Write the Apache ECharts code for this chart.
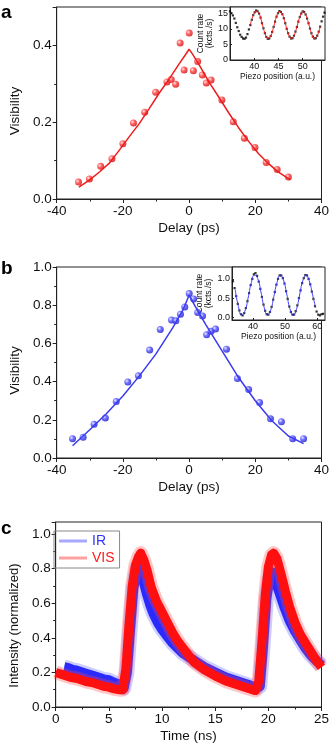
<!DOCTYPE html>
<html>
<head>
<meta charset="utf-8">
<script src="https://cdn.jsdelivr.net/npm/echarts@6/dist/echarts.min.js"></script>
<style>
html, body { margin: 0; padding: 0; background: #fff; }
#chart { width: 332px; height: 747px; }
</style>
</head>
<body>
<div id="chart"></div>
<script>
// panel a - visibility vs delay (red)
const delayA = [-33.4, -30.1, -26.7, -23.3, -20.0, -16.8, -13.4, -10.1, -6.7, -5.4, -4.05, -2.7, -1.5, 0.05, 1.3, 2.6, 4.0, 5.2, 6.65, 9.9, 13.35, 16.7, 19.9, 23.3, 26.6, 30.0]
const visA = [0.044, 0.052, 0.085, 0.105, 0.144, 0.198, 0.226, 0.278, 0.305, 0.311, 0.299, 0.406, 0.336, 0.432, 0.334, 0.358, 0.323, 0.302, 0.310, 0.258, 0.201, 0.158, 0.134, 0.095, 0.077, 0.057]
const fitDelayA = [-33.3, -30, -27, -24, -21, -18, -15, -12, -9, -6, -3, -1, 0, 1, 3, 6, 9, 12, 15, 18, 21, 24, 27, 30.6]
const fitVisA = [0.031, 0.050, 0.071, 0.094, 0.128, 0.163, 0.197, 0.236, 0.276, 0.313, 0.352, 0.377, 0.39, 0.378, 0.350, 0.305, 0.265, 0.224, 0.185, 0.150, 0.118, 0.092, 0.070, 0.050]

// inset a - count rate vs piezo position
const piezoA = [35.0, 35.3, 35.6, 35.9, 36.2, 36.5, 36.8, 37.1, 37.4, 37.7, 38.0, 38.3, 38.6, 38.9, 39.2, 39.5, 39.8, 40.1, 40.4, 40.7, 41.0, 41.3, 41.6, 41.9, 42.2, 42.5, 42.8, 43.1, 43.4, 43.7, 44.0, 44.3, 44.6, 44.9, 45.2, 45.5, 45.8, 46.1, 46.4, 46.7, 47.0, 47.3, 47.6, 47.9, 48.2, 48.5, 48.8, 49.1, 49.4, 49.7, 50.0, 50.3, 50.6, 50.9, 51.2, 51.5, 51.8, 52.1, 52.4, 52.7, 53.0, 53.3, 53.6, 53.9, 54.2, 54.5]
const countA = [15.6, 15.0, 14.3, 13.3, 11.9, 10.5, 9.3, 8.1, 7.4, 6.9, 6.8, 7.2, 8.3, 9.8, 11.2, 12.9, 14.4, 15.3, 15.9, 15.6, 14.9, 13.6, 11.8, 10.2, 8.6, 7.4, 6.8, 6.9, 7.7, 9.0, 10.6, 12.3, 13.9, 15.0, 15.7, 15.4, 14.7, 13.4, 11.8, 10.0, 8.6, 7.5, 6.9, 7.0, 7.8, 9.1, 10.6, 12.3, 13.8, 14.9, 15.6, 15.4, 14.6, 13.3, 11.8, 10.1, 8.6, 7.5, 6.9, 7.0, 7.8, 9.1, 10.7, 12.4, 13.9, 15.2]
const piezoFitA = [39.2, 39.8, 40.4, 41.0, 41.6, 42.2, 42.8, 43.4, 44.0, 44.6, 45.2, 45.8, 46.4, 47.0, 47.6, 48.2, 48.8, 49.4, 50.0, 50.6, 51.2, 51.8, 52.4, 53.0, 53.6]
const countFitA = [11.3, 14.3, 15.7, 14.9, 11.9, 8.6, 6.9, 7.7, 10.6, 13.9, 15.6, 14.7, 11.8, 8.6, 6.9, 7.8, 10.6, 13.8, 15.5, 14.6, 11.8, 8.6, 6.9, 7.8, 10.7]

// panel b - visibility vs delay (blue)
const delayB = [-35.2, -32.0, -28.7, -25.3, -22.0, -18.5, -15.3, -11.9, -8.7, -5.3, -4.0, -2.6, -1.3, 0.04, 1.4, 2.6, 4.06, 5.3, 6.65, 8.0, 11.3, 14.6, 18.0, 21.3, 24.6, 27.9, 31.3, 34.6]
const visB = [0.101, 0.108, 0.177, 0.210, 0.296, 0.398, 0.430, 0.565, 0.673, 0.722, 0.718, 0.753, 0.791, 0.861, 0.833, 0.762, 0.743, 0.645, 0.663, 0.675, 0.570, 0.416, 0.358, 0.290, 0.205, 0.190, 0.101, 0.101]
const fitDelayB = [-35.2, -30, -25, -20, -15, -10, -5, -2, 0, 2, 5, 10, 15, 20, 25, 30, 34.6]
const fitVisB = [0.064, 0.148, 0.232, 0.325, 0.43, 0.545, 0.68, 0.77, 0.852, 0.79, 0.70, 0.56, 0.42, 0.30, 0.195, 0.115, 0.075]

// inset b
const piezoB = [33.8, 34.3, 34.8, 35.3, 35.8, 36.3, 36.8, 37.3, 37.8, 38.3, 38.8, 39.3, 39.8, 40.3, 40.8, 41.3, 41.8, 42.3, 42.8, 43.3, 43.8, 44.3, 44.8, 45.3, 45.8, 46.3, 46.8, 47.3, 47.8, 48.3, 48.8, 49.3, 49.8, 50.3, 50.8, 51.3, 51.8, 52.3, 52.8, 53.3, 53.8, 54.3, 54.8, 55.3, 55.8, 56.3, 56.8, 57.3, 57.8, 58.3, 58.8, 59.3, 59.8, 60.3, 60.8, 61.3, 61.8]
const countB = [0.94, 0.76, 0.55, 0.35, 0.18, 0.08, 0.05, 0.11, 0.24, 0.42, 0.63, 0.84, 1.00, 1.12, 1.15, 1.08, 0.93, 0.74, 0.53, 0.33, 0.17, 0.08, 0.07, 0.14, 0.27, 0.46, 0.66, 0.85, 1.00, 1.09, 1.09, 1.02, 0.88, 0.68, 0.48, 0.28, 0.14, 0.07, 0.07, 0.16, 0.31, 0.50, 0.70, 0.89, 1.02, 1.10, 1.09, 1.00, 0.86, 0.67, 0.48, 0.29, 0.15, 0.07, 0.05, 0.08, 0.09]
const piezoFitB = [34.5, 35.5, 36.5, 37.5, 38.5, 39.5, 40.5, 41.5, 42.5, 43.5, 44.5, 45.5, 46.5, 47.5, 48.5, 49.5, 50.5, 51.5, 52.5, 53.5, 54.5, 55.5, 56.5, 57.5, 58.5, 59.5]
const countFitB = [0.72, 0.28, 0.06, 0.16, 0.50, 0.90, 1.10, 1.01, 0.66, 0.26, 0.06, 0.18, 0.54, 0.91, 1.10, 0.97, 0.61, 0.22, 0.05, 0.20, 0.58, 0.95, 1.10, 0.95, 0.60, 0.25]

// panel c - normalized intensity vs time
const timeIR = [0.8, 1.2, 1.6, 2, 2.5, 3, 3.5, 4, 4.5, 5, 5.5, 6, 6.4, 6.7, 7.0, 7.3, 7.6, 7.8, 8.0, 8.3, 8.6, 8.9, 9.2, 9.6, 10, 10.5, 11, 11.5, 12, 13, 14, 15, 16, 17, 18, 18.9, 19.2, 19.5, 19.8, 20.1, 20.3, 20.6, 21, 21.5, 22, 22.5, 23, 23.5, 24, 24.5, 25]
const irVal = [0.23, 0.225, 0.215, 0.21, 0.20, 0.19, 0.18, 0.17, 0.16, 0.155, 0.14, 0.13, 0.11, 0.20, 0.45, 0.68, 0.79, 0.82, 0.78, 0.72, 0.65, 0.59, 0.54, 0.49, 0.45, 0.41, 0.37, 0.34, 0.31, 0.27, 0.23, 0.20, 0.17, 0.15, 0.13, 0.11, 0.12, 0.35, 0.62, 0.74, 0.78, 0.74, 0.67, 0.58, 0.50, 0.44, 0.39, 0.34, 0.30, 0.27, 0.24]
const timeVIS = [0, 0.5, 1, 1.5, 2, 2.5, 3, 3.5, 4, 4.5, 5, 5.5, 6, 6.3, 6.6, 6.9, 7.2, 7.5, 7.8, 8.0, 8.3, 8.6, 9, 9.5, 10, 10.5, 11, 11.5, 12, 13, 14, 15, 16, 17, 18, 18.8, 19.1, 19.4, 19.7, 20.0, 20.3, 20.5, 20.8, 21.2, 21.6, 22, 22.5, 23, 23.5, 24, 24.5, 25]
const visVal = [0.20, 0.19, 0.18, 0.17, 0.165, 0.155, 0.145, 0.14, 0.13, 0.12, 0.115, 0.105, 0.10, 0.10, 0.22, 0.48, 0.70, 0.82, 0.87, 0.89, 0.85, 0.79, 0.69, 0.61, 0.55, 0.49, 0.43, 0.38, 0.34, 0.26, 0.215, 0.18, 0.15, 0.13, 0.11, 0.095, 0.15, 0.38, 0.64, 0.81, 0.88, 0.89, 0.86, 0.77, 0.67, 0.58, 0.49, 0.42, 0.37, 0.32, 0.27, 0.23]

const font = 'Liberation Sans, Arial, sans-serif'
const ink = '#111'
const zip = (xs, ys) => xs.map((x, i) => [x, ys[i]])
const one = v => v.toFixed(1)

// 3d-ish sphere markers
const sphere = (light, mid, dark) => ({
  type: 'radial', x: 0.35, y: 0.35, r: 0.75,
  colorStops: [{ offset: 0, color: light }, { offset: 0.4, color: mid }, { offset: 1, color: dark }]
})

// main axes with outward ticks and minor ticks
function mainAxis(gridIndex, min, max, interval, name, nameGap, extra) {
  return Object.assign({
    type: 'value', gridIndex, min, max, interval,
    name, nameLocation: 'middle', nameGap,
    nameTextStyle: { fontSize: 13.5, color: ink, fontFamily: font },
    axisLine: { show: true, onZero: false, lineStyle: { color: '#222', width: 1 } },
    axisTick: { show: true, inside: false, length: 4, lineStyle: { color: '#222' } },
    minorTick: { show: true, splitNumber: 2, length: 2.5, lineStyle: { color: '#222' } },
    axisLabel: { fontSize: 13.5, color: ink, margin: 5, fontFamily: font },
    splitLine: { show: false }
  }, extra || {})
}

// small inset axes
function insetAxis(gridIndex, min, max, name, nameGap, label, extra) {
  return Object.assign({
    type: 'value', gridIndex, min, max,
    name, nameLocation: 'middle', nameGap,
    nameTextStyle: { fontSize: 8.5, color: ink, fontFamily: font, lineHeight: 9 },
    axisLine: { show: true, onZero: false, lineStyle: { color: '#222', width: 1 } },
    axisTick: { show: true, inside: true, length: 2, lineStyle: { color: '#222' } },
    axisLabel: Object.assign({ fontSize: 9, color: ink, margin: 2, fontFamily: font }, label),
    splitLine: { show: false }
  }, extra || {})
}

const myChart = echarts.init(document.getElementById('chart'))

const option = {
  animation: false,
  backgroundColor: '#fff',
  textStyle: { fontFamily: font },
  grid: [
    { left: 46, top: 7, right: 7, height: 192, show: true, borderColor: '#222', borderWidth: 1 },
    { left: 230, top: 7, right: 7, height: 53, show: true, borderColor: '#222', borderWidth: 1, backgroundColor: '#fff' },
    { left: 47, top: 267, right: 7, height: 191, show: true, borderColor: '#222', borderWidth: 1 },
    { left: 232, top: 267, right: 7, height: 53, show: true, borderColor: '#222', borderWidth: 1, backgroundColor: '#fff' },
    { left: 49, top: 522, right: 9, height: 185, show: true, borderColor: '#222', borderWidth: 1 }
  ],
  xAxis: [
    mainAxis(0, -40, 40, 20, 'Delay (ps)', 22),
    insetAxis(1, 35, 54.6, 'Piezo position (a.u.)', 10, { showMinLabel: false, showMaxLabel: false }, { interval: 5 }),
    mainAxis(2, -40, 40, 20, 'Delay (ps)', 22),
    insetAxis(3, 33.5, 62.4, 'Piezo position (a.u.)', 10, { customValues: [40, 50, 60] }, { axisTick: { show: true, inside: true, length: 2, customValues: [40, 50, 60], lineStyle: { color: '#222' } } }),
    mainAxis(4, 0, 25, 5, 'Time (ns)', 22)
  ],
  yAxis: [
    mainAxis(0, 0, 0.5, 0.2, 'Visibility', 27, {
      nameTextStyle: { fontSize: 13.5, color: ink, fontFamily: font, padding: [0, 16, 0, 0] },
      axisLabel: { fontSize: 13.5, color: ink, margin: 5, fontFamily: font, formatter: one, showMaxLabel: false }
    }),
    insetAxis(1, 0, 17, 'Count rate\n(kcts./s)', 11, { showMaxLabel: false }, { interval: 5 }),
    mainAxis(2, 0, 1, 0.2, 'Visibility', 27, {
      nameTextStyle: { fontSize: 13.5, color: ink, fontFamily: font, padding: [0, 16, 0, 0] },
      axisLabel: { fontSize: 13.5, color: ink, margin: 5, fontFamily: font, formatter: one }
    }),
    insetAxis(3, -0.07, 1.31, 'Count rate\n(kcts./s)', 15, { customValues: [0, 0.5, 1], formatter: one }, { axisTick: { show: true, inside: true, length: 2, customValues: [0, 0.5, 1], lineStyle: { color: '#222' } } }),
    mainAxis(4, 0, 1.07, 0.2, 'Intensity (normalized)', 27, {
      nameTextStyle: { fontSize: 13, color: ink, fontFamily: font, padding: [0, 22, 0, 0] },
      axisLabel: { fontSize: 13.5, color: ink, margin: 5, fontFamily: font, formatter: one, showMaxLabel: false }
    })
  ],
  legend: {
    left: 54, top: 531, orient: 'vertical',
    borderColor: '#888', borderWidth: 1, padding: [3, 5, 3, 5],
    itemGap: 3, itemWidth: 28, itemHeight: 3,
    selectedMode: false,
    textStyle: { fontSize: 14, fontFamily: font },
    data: [
      { name: 'IR', icon: 'rect', itemStyle: { color: '#a8a8ff' }, textStyle: { color: '#3333ff', fontSize: 14 } },
      { name: 'VIS', icon: 'rect', itemStyle: { color: '#ffa0a0' }, textStyle: { color: '#ff1a1a', fontSize: 14 } }
    ]
  },
  graphic: [
    { type: 'text', left: 1, top: 3, style: { text: 'a', font: 'bold 19px Liberation Sans, Arial', fill: '#000' } },
    { type: 'text', left: 1, top: 259, style: { text: 'b', font: 'bold 19px Liberation Sans, Arial', fill: '#000' } },
    { type: 'text', left: 1, top: 519, style: { text: 'c', font: 'bold 19px Liberation Sans, Arial', fill: '#000' } }
  ],
  series: [
    // panel a
    {
      name: 'a-fit', type: 'line', xAxisIndex: 0, yAxisIndex: 0,
      data: zip(fitDelayA, fitVisA), showSymbol: false,
      lineStyle: { color: '#ee1c1c', width: 1.5 }
    },
    {
      name: 'a-data', type: 'scatter', xAxisIndex: 0, yAxisIndex: 0,
      data: zip(delayA, visA), symbolSize: 7,
      itemStyle: { color: sphere('#ffe0e0', '#ff4040', '#c80000') }
    },
    {
      name: 'a-inset', type: 'scatter', xAxisIndex: 1, yAxisIndex: 1,
      data: zip(piezoA, countA), symbol: 'rect', symbolSize: 2.2,
      itemStyle: { color: '#000' }
    },
    {
      name: 'a-inset-fit', type: 'line', xAxisIndex: 1, yAxisIndex: 1,
      data: zip(piezoFitA, countFitA), showSymbol: false, smooth: true,
      lineStyle: { color: '#ff2020', width: 1 }
    },
    // panel b
    {
      name: 'b-fit', type: 'line', xAxisIndex: 2, yAxisIndex: 2,
      data: zip(fitDelayB, fitVisB), showSymbol: false,
      lineStyle: { color: '#3a3af0', width: 1.5 }
    },
    {
      name: 'b-data', type: 'scatter', xAxisIndex: 2, yAxisIndex: 2,
      data: zip(delayB, visB), symbolSize: 7,
      itemStyle: { color: sphere('#e4e4ff', '#5050ff', '#1010c0') }
    },
    {
      name: 'b-inset', type: 'scatter', xAxisIndex: 3, yAxisIndex: 3,
      data: zip(piezoB, countB), symbol: 'rect', symbolSize: 2.2,
      itemStyle: { color: '#000' }
    },
    {
      name: 'b-inset-fit', type: 'line', xAxisIndex: 3, yAxisIndex: 3,
      data: zip(piezoFitB, countFitB), showSymbol: false, smooth: true,
      lineStyle: { color: '#4040ff', width: 1 }
    },
    // panel c: noisy traces drawn as thick bands
    {
      name: 'IR-halo', type: 'line', xAxisIndex: 4, yAxisIndex: 4,
      data: zip(timeIR, irVal), showSymbol: false,
      lineStyle: { color: 'rgba(90,90,255,0.3)', width: 15, join: 'round' }
    },
    {
      name: 'IR', type: 'line', xAxisIndex: 4, yAxisIndex: 4,
      data: zip(timeIR, irVal), showSymbol: false,
      itemStyle: { color: '#a8a8ff' },
      lineStyle: { color: '#2a2aff', width: 10, join: 'round' }
    },
    {
      name: 'VIS-halo', type: 'line', xAxisIndex: 4, yAxisIndex: 4,
      data: zip(timeVIS, visVal), showSymbol: false,
      lineStyle: { color: 'rgba(255,70,70,0.3)', width: 14, join: 'round' }
    },
    {
      name: 'VIS', type: 'line', xAxisIndex: 4, yAxisIndex: 4,
      data: zip(timeVIS, visVal), showSymbol: false,
      itemStyle: { color: '#ffa0a0' },
      lineStyle: { color: '#ff1010', width: 9, join: 'round' }
    }
  ]
}

myChart.setOption(option)
window.addEventListener('resize', function () {
  myChart.resize()
})
</script>
</body>
</html>
